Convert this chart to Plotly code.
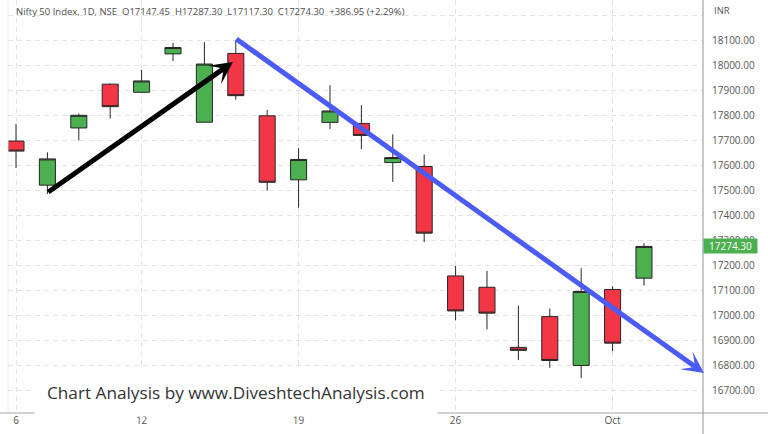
import plotly.graph_objects as go

# ---- data (Nifty 50, daily, Sep 6 – Oct 4 2022) ----
dates = ["2022-09-06", "2022-09-07", "2022-09-08", "2022-09-09", "2022-09-12",
         "2022-09-13", "2022-09-14", "2022-09-15", "2022-09-16", "2022-09-19",
         "2022-09-20", "2022-09-21", "2022-09-22", "2022-09-23", "2022-09-26",
         "2022-09-27", "2022-09-28", "2022-09-29", "2022-09-30", "2022-10-03",
         "2022-10-04"]
opens = [17695.70, 17519.40, 17748.15, 17923.35, 17890.85, 18044.45, 17771.15,
         18046.35, 17796.80, 17540.65, 17770.40, 17766.35, 17609.65, 17593.85,
         17156.30, 17110.90, 16870.55, 16993.60, 16798.05, 17102.10, 17147.45]
highs = [17764.65, 17650.75, 17806.00, 17925.95, 17980.55, 18088.30, 18091.55,
         18096.15, 17820.05, 17667.20, 17919.30, 17838.75, 17722.75, 17642.15,
         17196.40, 17176.45, 17037.60, 17026.05, 17187.10, 17114.65, 17287.30]
lows = [17587.65, 17484.30, 17698.00, 17786.00, 17889.15, 18015.45, 17771.15,
        17861.50, 17497.25, 17429.70, 17744.40, 17663.60, 17532.45, 17291.65,
        16978.30, 16942.35, 16820.40, 16788.60, 16747.70, 16855.55, 17117.30]
closes = [17655.60, 17624.40, 17798.75, 17833.35, 17936.35, 18070.05, 18003.75,
          17877.40, 17530.85, 17622.25, 17816.25, 17718.35, 17629.80, 17327.35,
          17016.30, 17007.40, 16858.60, 16818.10, 17094.35, 16887.35, 17274.30]

x_tick_dates = ["2022-09-06", "2022-09-12", "2022-09-19", "2022-09-26", "2022-10-03"]
x_tick_labels = ["6", "12", "19", "26", "Oct"]
y_ticks = [16700 + 100 * i for i in range(16)]  # 16700 .. 18200
y_tick_labels = [f"{v:.2f}" if v <= 18100 else "" for v in y_ticks]

last_price = 17274.30
header = ("Nifty 50 Index, 1D, NSE  O17147.45  H17287.30  L17117.30  "
          "C17274.30  +386.95 (+2.29%)")
watermark = "Chart Analysis by www.DiveshtechAnalysis.com"

# trend arrows (category index, price)
up_arrow = dict(x0=0.98, y0=17488, x1=6.91, y1=18012)
down_arrow = dict(x0=6.97, y0=18108, x1=21.91, y1=16768)

# ---- layout geometry helpers ----
W, H = 768, 434
ML, MR, MT, MB = 8, 65, 0, 21
PW, PH = W - ML - MR, H - MT - MB


def px(xp):
    return (xp - ML) / PW


def py(yp):
    return (H - MB - yp) / PH


GREEN = "#4CAF50"
RED = "#F23645"
EDGE = "#262626"
GRID = "#e3e3e6"
TXT = "#555555"

fig = go.Figure()
fig.add_trace(go.Candlestick(
    x=dates, open=opens, high=highs, low=lows, close=closes,
    increasing=dict(fillcolor=GREEN, line=dict(color=EDGE, width=1)),
    decreasing=dict(fillcolor=RED, line=dict(color=EDGE, width=1)),
    whiskerwidth=0, hoverinfo="skip",
))

fig.update_layout(
    width=W, height=H,
    margin=dict(l=ML, r=MR, t=MT, b=MB, pad=0),
    plot_bgcolor="white", paper_bgcolor="white",
    showlegend=False, boxgap=0.27,
    font=dict(family="Open Sans", color=TXT),
)
fig.update_xaxes(
    type="category", range=[-0.255, 21.88],
    tickmode="array", tickvals=x_tick_dates, ticktext=x_tick_labels,
    showgrid=True, gridcolor=GRID, griddash="5px,4px", gridwidth=1,
    showline=False, ticks="", zeroline=False,
    tickfont=dict(size=10, color=TXT, family="Open Sans"),
    rangeslider=dict(visible=False),
)
fig.update_yaxes(
    side="right", range=[16608, 18260],
    tickmode="array", tickvals=y_ticks, ticktext=y_tick_labels,
    showgrid=True, gridcolor=GRID, griddash="5px,4px", gridwidth=1,
    showline=False, ticks="", zeroline=False, ticklabelstandoff=8,
    tickfont=dict(size=10, color=TXT, family="Open Sans"),
)

shapes = [
    # bottom axis line across full width
    dict(type="line", xref="paper", yref="paper", x0=px(0), x1=px(W), y0=0, y1=0,
         line=dict(color="#a0a3aa", width=1)),
    # right price-scale separator
    dict(type="line", xref="paper", yref="paper", x0=1, x1=1, y0=py(H), y1=1,
         line=dict(color="#8e9097", width=1)),
    # faint left border
    dict(type="line", xref="paper", yref="paper", x0=0, x1=0, y0=0, y1=1,
         line=dict(color="#ececec", width=1)),
]
fig.update_layout(shapes=shapes)

annotations = [
    dict(xref="paper", yref="paper", x=px(14), y=py(12), xanchor="left", yanchor="middle",
         text=header, showarrow=False, font=dict(size=9.5, color="#4d4d4d", family="Open Sans")),
    dict(xref="paper", yref="paper", x=px(712), y=py(11), xanchor="left", yanchor="middle",
         text="INR", showarrow=False, font=dict(size=9.5, color=TXT, family="Open Sans")),
    dict(xref="paper", yref="y", x=1, y=last_price, xanchor="left", yanchor="middle",
         text=f"{last_price:.2f}", showarrow=False, bgcolor=GREEN, width=49, height=10,
         borderpad=2, font=dict(size=10, color="white", family="Open Sans")),
    dict(xref="paper", yref="paper", x=px(236), y=py(392), xanchor="center", yanchor="middle",
         text=watermark, showarrow=False, bgcolor="white", borderpad=12,
         font=dict(size=17.2, color="#333333", family="Open Sans")),
    dict(xref="x", yref="y", axref="x", ayref="y",
         x=up_arrow["x1"], y=up_arrow["y1"], ax=up_arrow["x0"], ay=up_arrow["y0"],
         showarrow=True, arrowhead=3, arrowsize=0.75, arrowwidth=5, arrowcolor="#000000",
         standoff=0, text=""),
    dict(xref="x", yref="y", axref="x", ayref="y",
         x=down_arrow["x1"], y=down_arrow["y1"], ax=down_arrow["x0"], ay=down_arrow["y0"],
         showarrow=True, arrowhead=3, arrowsize=0.72, arrowwidth=5, arrowcolor="#4a5cf5",
         standoff=0, text=""),
]
fig.update_layout(annotations=annotations)

fig.write_html("out.html",
               config={"displayModeBar": False},
               post_script="document.body.style.margin='0';document.body.style.overflow='hidden';")
